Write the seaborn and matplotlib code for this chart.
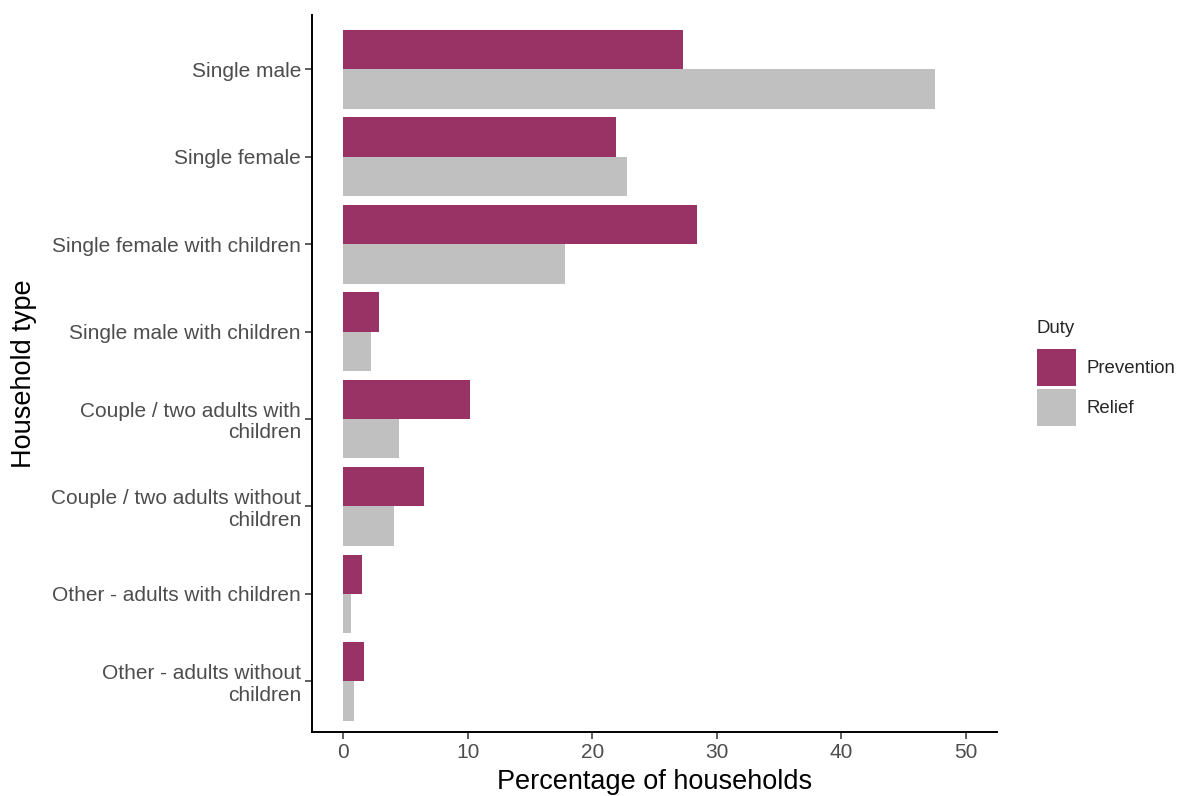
import pandas as pd
import seaborn as sns
import matplotlib
matplotlib.use('Agg')
import matplotlib.pyplot as plt

# household types, top to bottom
household = ['Single male', 'Single female', 'Single female with children',
             'Single male with children', 'Couple / two adults with\nchildren',
             'Couple / two adults without\nchildren', 'Other - adults with children',
             'Other - adults without\nchildren']
prevention = [27.3, 21.9, 28.4, 2.9, 10.2, 6.5, 1.5, 1.7]
relief = [47.5, 22.8, 17.8, 2.2, 4.5, 4.1, 0.6, 0.9]
duty = ['Prevention', 'Relief']
colors = ['#993366', '#C0C0C0']
xticks = [0, 10, 20, 30, 40, 50]

df = pd.DataFrame({
    'Household type': household * 2,
    'Percentage of households': prevention + relief,
    'Duty': [duty[0]] * len(household) + [duty[1]] * len(household),
})

sns.set_style('white')
plt.rcParams['font.family'] = ['Liberation Sans', 'DejaVu Sans']

fig = plt.figure(figsize=(11.78, 7.96), dpi=100)
ax = fig.add_axes([0.2649, 0.0804, 0.5814, 0.9006])

sns.barplot(data=df, y='Household type', x='Percentage of households', hue='Duty',
            order=household, hue_order=duty, palette=colors, orient='h',
            width=0.9, gap=0, saturation=1, linewidth=0, ax=ax, errorbar=None)

ax.set_xlim(-2.5, 52.5)
ax.set_ylim(7.58, -0.62)
ax.set_xticks(xticks)
ax.tick_params(axis='both', which='major', direction='out', length=5, width=1.1,
               color='#333333', labelsize=15, labelcolor='#4d4d4d', bottom=True, left=True, pad=3)
for lab in ax.get_yticklabels():
    lab.set_horizontalalignment('right')
    lab.set_multialignment('right')
    lab.set_linespacing(1.15)

for s in ['top', 'right']:
    ax.spines[s].set_visible(False)
for s in ['left', 'bottom']:
    ax.spines[s].set_color('black')
    ax.spines[s].set_linewidth(1.4)

ax.set_xlabel('Percentage of households', fontsize=19.5, color='black', labelpad=5)
ax.set_ylabel('Household type', fontsize=19.5, color='black', labelpad=10)

handles, labels = ax.get_legend_handles_labels()
leg = ax.legend(handles, labels, title='Duty', loc='upper left', bbox_to_anchor=(0.872, 0.61),
                bbox_transform=fig.transFigure, frameon=False, fontsize=13.4, title_fontsize=13.4,
                handlelength=2.1, handleheight=2.67, labelspacing=0.15, handletextpad=0.6,
                borderpad=0, alignment='left')
leg._legend_box.sep = 9  # a bit more room under the title

plt.savefig('out.png', dpi=100)
